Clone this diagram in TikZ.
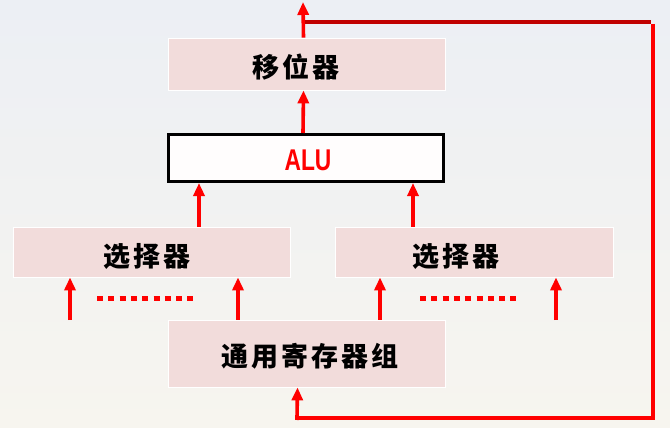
\documentclass[tikz,border=0pt]{standalone}
\usepackage{fontspec}
\usetikzlibrary{arrows.meta}
\newfontfamily\cjk{Noto Sans CJK SC}[LetterSpace=11]
\newfontfamily\alufont{Liberation Sans}
\definecolor{boxpink}{HTML}{F2DCDB}
\definecolor{sigred}{HTML}{FF0000}
\definecolor{busred}{HTML}{C00000}
\definecolor{skytop}{HTML}{ECEFF4}
\definecolor{skybottom}{HTML}{F7F5EF}
\tikzset{
  unit/.style={rectangle, fill=boxpink, draw=white, line width=0.8pt, inner sep=0pt},
  alubox/.style={rectangle, fill=white!97!pink, draw=black, line width=3pt, inner sep=0pt},
  cjklabel/.style={font=\cjk\bfseries\fontsize{27}{30}\selectfont, inner sep=0pt},
  sig/.style={draw=sigred, line width=3.6pt, -{Triangle[width=11pt,length=13pt]}},
  wire/.style={draw=sigred, line width=4pt},
  dots/.style={draw=sigred, line width=5pt, dash pattern=on 6pt off 5.3pt}
}
\begin{document}
\begin{tikzpicture}[x=1pt,y=-1pt]
  % background
  \shade[top color=skytop, bottom color=skybottom] (0,0) rectangle (670,428);
  \useasboundingbox (0,0) rectangle (670,428);

  % functional units
  \node[unit, minimum width=277pt, minimum height=52pt] (shifter) at (306.5,64) {};
  \node[alubox, minimum width=275pt, minimum height=47pt] (alu) at (306,158) {};
  \node[unit, minimum width=277pt, minimum height=50pt] (selL) at (151.5,252) {};
  \node[unit, minimum width=278pt, minimum height=50pt] (selR) at (474,252) {};
  \node[unit, minimum width=277pt, minimum height=67pt] (reg) at (306.5,353.5) {};

  % unit names
  \node[cjklabel] (shifter-text) at (296,67) {移位器};
  \node[font=\alufont\bfseries\fontsize{30}{30}\selectfont, text=sigred, inner sep=0pt] (alu-text) at (308,160) {\scalebox{0.76}[1]{ALU}};
  \node[cjklabel] (selL-text) at (147,256) {选择器};
  \node[cjklabel] (selR-text) at (456,256) {选择器};
  \node[cjklabel] (reg-text) at (310,356) {通用寄存器组};

  % data paths between units
  \draw[sig] ([xshift=-3pt]alu.north) -- ([xshift=-3pt]shifter.south);
  \draw[sig] (selL.north -| 199,0) -- (alu.south -| 199,0);
  \draw[sig] (selR.north -| 413,0) -- (alu.south -| 413,0);

  % shifter output
  \coordinate (out) at (303,2);
  \draw[sig] ([xshift=-3pt]shifter.north) -- (out);

  % selector inputs
  \coordinate (inL1) at (70,320);
  \coordinate (inR2) at (556,320);
  \draw[sig] (inL1) -- (selL.south -| inL1);
  \draw[sig] (reg.north -| 238,0) -- (selL.south -| 238,0);
  \draw[sig] (reg.north -| 380,0) -- (selR.south -| 380,0);
  \draw[sig] (inR2) -- (selR.south -| inR2);

  % omitted inputs
  \coordinate (dotsL-a) at (97,298);
  \coordinate (dotsL-b) at (196,298);
  \coordinate (dotsR-a) at (420,298);
  \coordinate (dotsR-b) at (520,298);
  \draw[dots] (dotsL-a) -- (dotsL-b);
  \draw[dots] (dotsR-a) -- (dotsR-b);

  % write-back bus to the register file
  \coordinate (tap) at (305,22);
  \coordinate (cornerTR) at (653,22);
  \coordinate (cornerBR) at (653,418);
  \draw[draw=busred, line width=4pt] (tap) -- ([xshift=-2pt]cornerTR);
  \draw[wire, line width=4.5pt, line join=miter] ([yshift=-2pt]cornerTR) -- (cornerBR) -- (cornerBR -| 297,0);
  \draw[sig, shorten <=-2pt] (cornerBR -| 297,0) -- ([xshift=-9pt]reg.south);
\end{tikzpicture}
\end{document}
